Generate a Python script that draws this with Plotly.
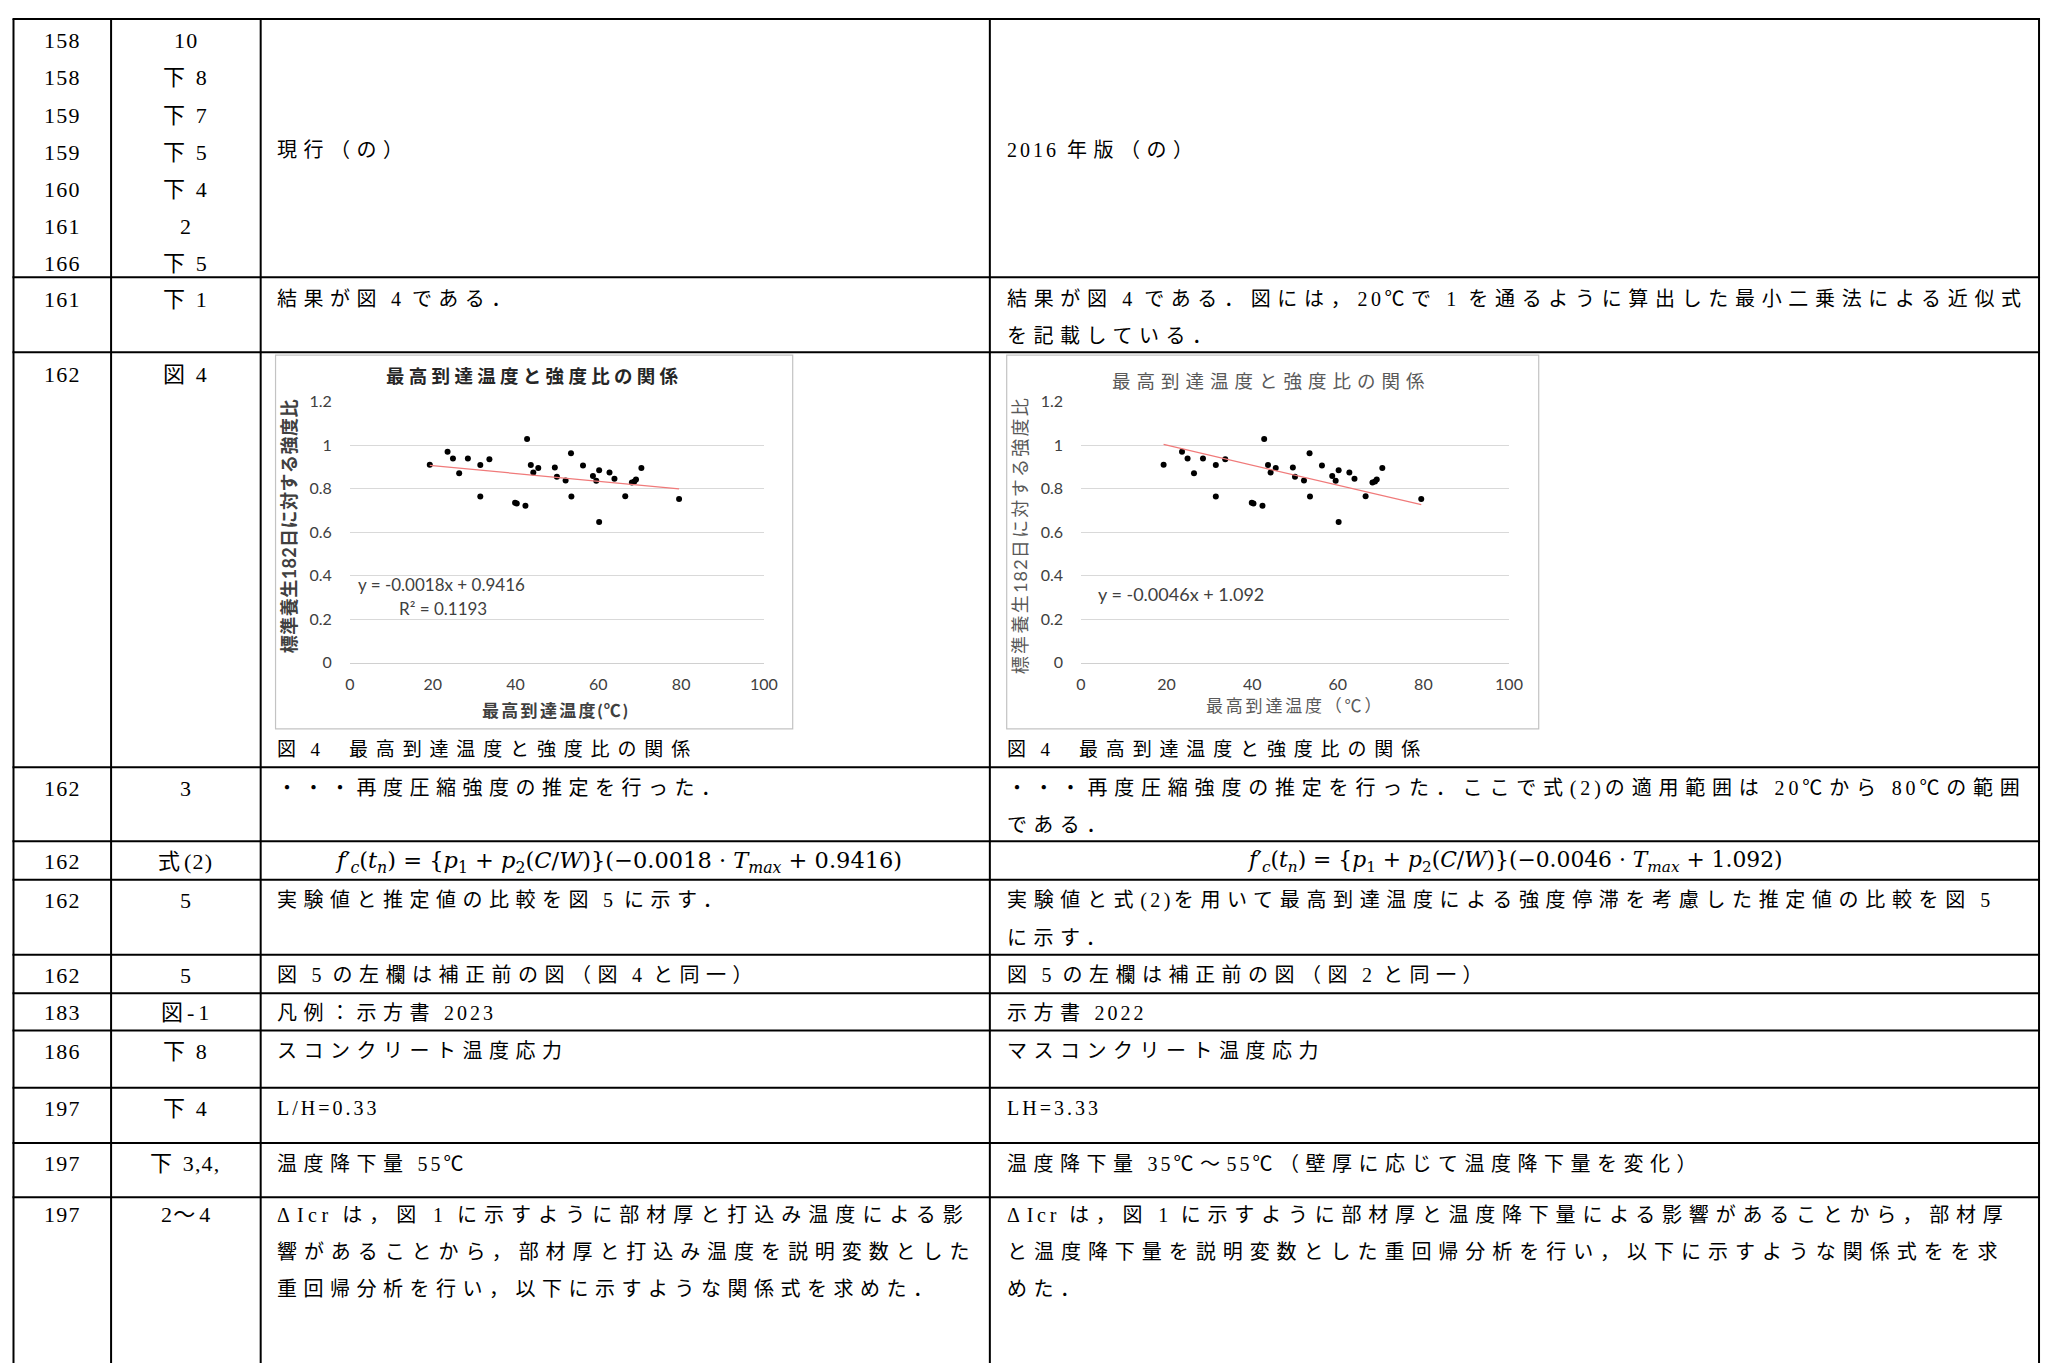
import re
import plotly.graph_objects as go

# Page is photographed at 2064x1371; the browser's default 8px body margin
# surrounds the figure, so the figure is drawn 16px smaller and all layout
# pixel positions below are page coordinates shifted by OFF.
PAGE_W, PAGE_H = 2064, 1371
OFF = 8
W, H = PAGE_W - 2 * OFF, PAGE_H - 2 * OFF

# ---------------- chart data ----------------
max_temp = [19.3, 23.6, 24.9, 26.4, 28.5, 31.5, 31.5, 33.7, 39.9, 40.3, 42.4,
            42.8, 43.7, 44.3, 45.5, 49.5, 50.0, 52.1, 53.4, 53.5, 56.3, 58.7,
            59.5, 60.2, 60.2, 62.7, 63.9, 66.5, 68.1, 68.7, 69.1, 70.4, 79.5]
strength_ratio = [0.910, 0.970, 0.938, 0.871, 0.939, 0.909, 0.764, 0.935, 0.735,
                  0.732, 0.721, 1.028, 0.909, 0.874, 0.895, 0.897, 0.855, 0.837,
                  0.962, 0.764, 0.906, 0.858, 0.836, 0.884, 0.647, 0.874, 0.845,
                  0.765, 0.828, 0.833, 0.842, 0.895, 0.752]
trend_slope = [-0.0018, -0.0046]
trend_intercept = [0.9416, 1.092]
r_squared = 0.1193
chart_title = "最高到達温度と強度比の関係"
y_title = "標準養生182日に対する強度比"
x_titles = ["最高到達温度(℃)", "最高到達温度（℃）"]
x_tick_vals = [0, 20, 40, 60, 80, 100]
y_tick_vals = [0, 0.2, 0.4, 0.6, 0.8, 1.0, 1.2]
caption = "図 4　最高到達温度と強度比の関係"

# ---------------- table data ----------------
page_col = [["158", "158", "159", "159", "160", "161", "166"], ["161"], ["162"],
            ["162"], ["162"], ["162"], ["162"], ["183"], ["186"], ["197"],
            ["197"], ["197"]]
line_col = [["10", "下 8", "下 7", "下 5", "下 4", "2", "下 5"], ["下 1"], ["図 4"],
            ["3"], ["式(2)"], ["5"], ["5"], ["図‐1"], ["下 8"], ["下 4"],
            ["下 3,4,"], ["2～4"]]
current_col = [
    ["現行（の）"],
    ["結果が図 4 である．"],
    [],
    ["・・・再度圧縮強度の推定を行った．"],
    [],
    ["実験値と推定値の比較を図 5 に示す．"],
    ["図 5 の左欄は補正前の図（図 4 と同一）"],
    ["凡例：示方書 2023"],
    ["スコンクリート温度応力"],
    ["L/H=0.33"],
    ["温度降下量 55℃"],
    ["ΔIcr は，図 1 に示すように部材厚と打込み温度による影",
     "響があることから，部材厚と打込み温度を説明変数とした",
     "重回帰分析を行い，以下に示すような関係式を求めた．"],
]
revised_col = [
    ["2016 年版（の）"],
    ["結果が図 4 である．図には，20℃で 1 を通るように算出した最小二乗法による近似式",
     "を記載している．"],
    [],
    ["・・・再度圧縮強度の推定を行った．ここで式(2)の適用範囲は 20℃から 80℃の範囲",
     "である．"],
    [],
    ["実験値と式(2)を用いて最高到達温度による強度停滞を考慮した推定値の比較を図 5",
     "に示す．"],
    ["図 5 の左欄は補正前の図（図 2 と同一）"],
    ["示方書 2022"],
    ["マスコンクリート温度応力"],
    ["LH=3.33"],
    ["温度降下量 35℃～55℃（壁厚に応じて温度降下量を変化）"],
    ["ΔIcr は，図 1 に示すように部材厚と温度降下量による影響があることから，部材厚",
     "と温度降下量を説明変数とした重回帰分析を行い，以下に示すような関係式をを求",
     "めた．"],
]

# ---------------- layout positions (page pixels) ----------------
col_x = [8.5, 107, 258, 994, 2053]
row_y = [9, 271, 347, 768, 843, 882, 958, 997, 1035, 1093, 1149, 1204]
first_y = [31, 293, 370, 789, 864, 903, 979, 1017, 1056, 1114, 1170, 1222]
pitch = 37.7
FORMULA_ROW = 4
# extra letter spacing for justified (full-width) lines: (row, column, line)
justify = {(1, 3, 0): 0.17, (3, 3, 0): 0.30, (5, 3, 0): 0.14,
           (11, 2, 0): 0.52, (11, 2, 1): 0.42, (11, 3, 0): 0.27, (11, 3, 1): 0.46}

NUM_FONT = "Liberation Serif, Noto Sans CJK JP"
BODY_FONT = "Liberation Serif, Noto Sans CJK JP"
MATH_FONT = "DejaVu Serif, Liberation Serif"
CHART_FONT = "Lato, Noto Sans CJK JP"


def PX(x):
    return (x - OFF) / W


def PY(y):
    return 1 - (y - OFF) / H


def spaced(s, cjk, latin):
    """Wrap ASCII / non-ASCII runs with their own letter spacing."""
    out = []
    for m in re.finditer(r'[\x00-\x7f]+|[^\x00-\x7f]+', s):
        run = m.group(0)
        ls = latin if ord(run[0]) < 128 else cjk
        out.append(f'<span style="letter-spacing:{ls:.2f}px">{run}</span>')
    return "".join(out)


annotations = []
shapes = []


def text(x, y, s, size, anchor="left", family=BODY_FONT, color="black", **kw):
    annotations.append(dict(
        x=PX(x), y=PY(y), xref="paper", yref="paper", text=s, showarrow=False,
        xanchor=anchor, yanchor="middle", align=anchor,
        font=dict(family=family, size=size, color=color), **kw))


def formula(slope, intercept):
    return ("<i>f</i>′<sub><i>c</i></sub>(<i>t</i><sub><i>n</i></sub>) = "
            "{<i>p</i><sub>1</sub> + <i>p</i><sub>2</sub>(<i>C</i>/<i>W</i>)}"
            f"(−{abs(slope)} · <i>T</i><sub><i>max</i></sub> + {intercept})")


# table grid
for y in row_y:
    shapes.append(dict(type="line", xref="paper", yref="paper",
                       x0=PX(col_x[0] - 1), x1=PX(col_x[-1] + 1), y0=PY(y), y1=PY(y),
                       line=dict(color="black", width=2)))
for x in col_x:
    shapes.append(dict(type="line", xref="paper", yref="paper",
                       x0=PX(x), x1=PX(x), y0=PY(row_y[0]), y1=PY(PAGE_H + 4),
                       line=dict(color="black", width=2)))

BODY_LS, LATIN_LS = 6.5, 3.0
c1 = (col_x[0] + col_x[1]) / 2
c2 = (col_x[1] + col_x[2]) / 2
t3 = col_x[2] + 14
t4 = col_x[3] + 15
for i in range(len(page_col)):
    for j, s in enumerate(page_col[i]):
        text(c1, first_y[i] + j * pitch, spaced(s, 2, 1.2), 22, anchor="center",
             family=NUM_FONT)
    for j, s in enumerate(line_col[i]):
        text(c2, first_y[i] + j * pitch, spaced(s, 4, 1.2), 22, anchor="center",
             family=NUM_FONT)
    if i == 0:
        mid = (row_y[0] + row_y[1]) / 2
        text(t3, mid + 2, spaced(current_col[i][0], BODY_LS, LATIN_LS), 20)
        text(t4, mid + 2, spaced(revised_col[i][0], BODY_LS, LATIN_LS), 20)
    elif i == FORMULA_ROW:
        text(619, first_y[i], formula(trend_slope[0], trend_intercept[0]), 22.5,
             anchor="center", family=MATH_FONT)
        text(1524, first_y[i], formula(trend_slope[1], trend_intercept[1]), 21.8,
             anchor="center", family=MATH_FONT)
    else:
        for col, lines, tx in ((2, current_col[i], t3), (3, revised_col[i], t4)):
            for j, s in enumerate(lines):
                extra = justify.get((i, col, j), 0.0)
                text(tx, first_y[i] + j * pitch,
                     spaced(s, BODY_LS + extra, LATIN_LS + 3 * extra), 20)

# captions under the charts
text(t3, 750, spaced(caption, 7.85, 2), 19)
text(t4, 750, spaced(caption, 7.85, 2), 19)

# ---------------- charts ----------------
boxes = [(273, 350, 795, 729), (1011, 350, 1548, 729)]
plot_x = [(348, 766), (1086, 1518)]
plot_y = (397, 662)
title_pos = [(534, 371), (1278, 376)]
title_ls = [4.3, 6.0]
ytitle_pos = [(286, 523), (1024, 533)]
ytitle_ls = [0.5, 2.3]
xtitle_pos = [(556, 710), (1302, 705)]
xtitle_ls = [2.3, 2.8]
eq_size = [17, 18]
bold = [True, False]
title_col = ["#262626", "#595959"]
axis_title_col = ["#404040", "#595959"]

fig = go.Figure()
layout_axes = {}
for k in range(2):
    xa = "x" if k == 0 else "x2"
    ya = "y" if k == 0 else "y2"
    fig.add_trace(go.Scatter(
        x=max_temp, y=strength_ratio, mode="markers", xaxis=xa, yaxis=ya,
        marker=dict(color="black", size=6), hoverinfo="skip"))
    tx = [min(max_temp), max(max_temp)]
    ty = [trend_slope[k] * v + trend_intercept[k] for v in tx]
    fig.add_trace(go.Scatter(
        x=tx, y=ty, mode="lines", xaxis=xa, yaxis=ya,
        line=dict(color="#f07a7a", width=1.2), hoverinfo="skip"))

    bx0, by0, bx1, by1 = boxes[k]
    shapes.append(dict(type="rect", xref="paper", yref="paper",
                       x0=PX(bx0), x1=PX(bx1), y0=PY(by0), y1=PY(by1),
                       line=dict(color="#c3c3c3", width=1.2), layer="below"))

    xkey = "xaxis" if k == 0 else "xaxis2"
    ykey = "yaxis" if k == 0 else "yaxis2"
    layout_axes[xkey] = dict(
        domain=[PX(plot_x[k][0]), PX(plot_x[k][1])], range=[0, 100],
        tickvals=x_tick_vals, showgrid=False, zeroline=False,
        showline=True, linecolor="#d0d0d0", linewidth=1, ticks="",
        tickfont=dict(family=CHART_FONT, size=16, color="#404040"),
        ticklabelstandoff=7, anchor=ya, fixedrange=True)
    layout_axes[ykey] = dict(
        domain=[PY(plot_y[1]), PY(plot_y[0])], range=[0, 1.2],
        tickvals=y_tick_vals, showgrid=True, gridcolor="#d9d9d9", gridwidth=1,
        zeroline=False, showline=False, ticks="",
        tickfont=dict(family=CHART_FONT, size=16, color="#404040"),
        ticklabelstandoff=17, anchor=xa, fixedrange=True)

    tt = spaced(chart_title, title_ls[k], 0)
    yt = spaced(y_title, ytitle_ls[k], ytitle_ls[k] / 2)
    xt = spaced(x_titles[k], xtitle_ls[k], xtitle_ls[k] / 2)
    if bold[k]:
        tt, yt, xt = f"<b>{tt}</b>", f"<b>{yt}</b>", f"<b>{xt}</b>"
    text(title_pos[k][0], title_pos[k][1], tt, 18.5, anchor="center",
         family=CHART_FONT, color=title_col[k])
    text(ytitle_pos[k][0], ytitle_pos[k][1], yt, 18, anchor="center",
         family=CHART_FONT, color=axis_title_col[k], textangle=-90)
    text(xtitle_pos[k][0], xtitle_pos[k][1], xt, 17, anchor="center",
         family=CHART_FONT, color=axis_title_col[k])

# trendline equations (data coordinates)
annotations.append(dict(
    x=1.6, y=0.36, xref="x", yref="y", xanchor="left", yanchor="middle",
    text=f"y = {trend_slope[0]}x + {trend_intercept[0]}", showarrow=False,
    font=dict(family=CHART_FONT, size=eq_size[0], color="#404040")))
annotations.append(dict(
    x=11.3, y=0.249, xref="x", yref="y", xanchor="left", yanchor="middle",
    text=f"R² = {r_squared}", showarrow=False,
    font=dict(family=CHART_FONT, size=eq_size[0], color="#404040")))
annotations.append(dict(
    x=3.6, y=0.318, xref="x2", yref="y2", xanchor="left", yanchor="middle",
    text=f"y = {trend_slope[1]}x + {trend_intercept[1]}", showarrow=False,
    font=dict(family=CHART_FONT, size=eq_size[1], color="#404040")))

fig.update_layout(
    width=W, height=H, margin=dict(l=0, r=0, t=0, b=0),
    paper_bgcolor="white", plot_bgcolor="white", showlegend=False,
    annotations=annotations, shapes=shapes, **layout_axes)

fig.write_html("out.html", config={"displayModeBar": False})
